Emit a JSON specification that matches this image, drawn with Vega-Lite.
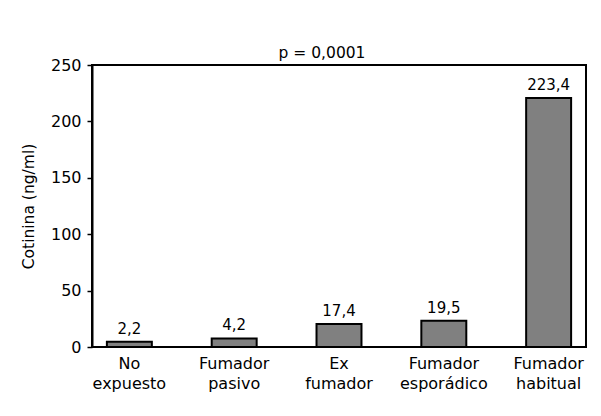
{
  "$schema": "https://vega.github.io/schema/vega-lite/v6.json",
  "autosize": "none",
  "width": 494,
  "height": 282,
  "padding": {"left": 92, "top": 65, "right": 15, "bottom": 69},
  "background": "white",
  "title": {
    "text": "p = 0,0001",
    "font": "DejaVu Sans",
    "fontSize": 15.5,
    "fontWeight": "normal",
    "color": "black",
    "anchor": "middle",
    "frame": "group",
    "dx": -17,
    "offset": -4
  },
  "data": {
    "values": [
      {"grupo": "No expuesto", "cotinina": 4.7, "etiqueta": "2,2"},
      {"grupo": "Fumador pasivo", "cotinina": 7.6, "etiqueta": "4,2"},
      {"grupo": "Ex fumador", "cotinina": 20.4, "etiqueta": "17,4"},
      {"grupo": "Fumador esporádico", "cotinina": 23.3, "etiqueta": "19,5"},
      {"grupo": "Fumador habitual", "cotinina": 220.7, "etiqueta": "223,4"}
    ]
  },
  "encoding": {
    "x": {
      "field": "grupo",
      "type": "nominal",
      "sort": null,
      "scale": {"paddingInner": 0.571, "paddingOuter": 0.142},
      "axis": {
        "title": null,
        "labelAngle": 0,
        "ticks": false,
        "domain": false,
        "labelPadding": 8,
        "labelFont": "DejaVu Sans",
        "labelFontSize": 16,
        "labelColor": "black",
        "labelLineHeight": 20,
        "labelExpr": "split(datum.label, ' ')"
      }
    },
    "y": {
      "field": "cotinina",
      "type": "quantitative",
      "scale": {"domain": [0, 250], "nice": false},
      "axis": {
        "title": "Cotinina (ng/ml)",
        "titleFont": "DejaVu Sans",
        "titleFontSize": 15.5,
        "titleFontWeight": "normal",
        "titleColor": "black",
        "titlePadding": 14,
        "values": [0, 50, 100, 150, 200, 250],
        "grid": false,
        "domainColor": "black",
        "domainWidth": 2,
        "tickColor": "black",
        "tickWidth": 1.5,
        "tickSize": 5,
        "labelPadding": 6,
        "labelFont": "DejaVu Sans",
        "labelFontSize": 16,
        "labelColor": "black"
      }
    }
  },
  "layer": [
    {
      "mark": {"type": "bar", "color": "#808080", "stroke": "black", "strokeWidth": 2}
    },
    {
      "mark": {"type": "text", "baseline": "alphabetic", "dy": -8, "font": "DejaVu Sans", "fontSize": 15, "color": "black"},
      "encoding": {"text": {"field": "etiqueta", "type": "nominal"}}
    }
  ],
  "config": {
    "view": {"stroke": "black", "strokeWidth": 2}
  }
}
